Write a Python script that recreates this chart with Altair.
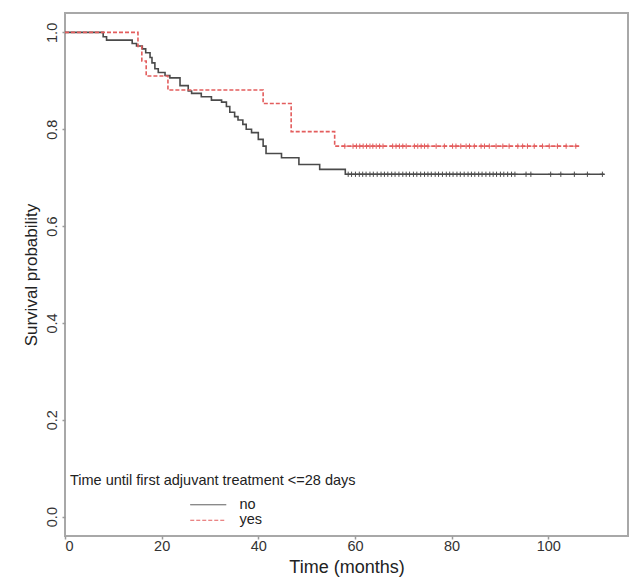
import altair as alt
import pandas as pd
import numpy as np

# ---- data ----
groups = ["no", "yes"]

no_time = [0, 7.9, 8.6, 13.9, 14.8, 16.0, 16.7, 17.6, 18.0, 18.6, 19.3, 20.7, 21.7,
           23.8, 25.5, 26.2, 28.2, 30.3, 32.4, 33.4, 34.1, 35.1, 35.8, 36.8, 37.5,
           38.6, 40.0, 41.0, 41.6, 44.8, 48.4, 52.7, 58.0, 111.6]
no_surv = [1.0, 0.991, 0.984, 0.977, 0.972, 0.966, 0.958, 0.948, 0.937, 0.925, 0.917,
           0.911, 0.906, 0.890, 0.879, 0.874, 0.867, 0.860, 0.856, 0.847, 0.835, 0.826,
           0.819, 0.810, 0.800, 0.793, 0.779, 0.765, 0.750, 0.741, 0.727, 0.717, 0.707,
           0.707]

yes_time = [0, 15.1, 15.9, 16.8, 21.3, 41.0, 46.8, 55.8, 106.8]
yes_surv = [1.0, 0.971, 0.941, 0.910, 0.881, 0.853, 0.795, 0.765, 0.765]

no_censored = [58.6, 59.3, 60.1, 60.9, 61.6, 62.3, 63.1, 63.8, 64.6, 65.4, 66.1, 66.8,
               67.6, 68.3, 69.1, 69.9, 70.6, 71.3, 72.1, 72.8, 73.6, 74.4, 75.1, 75.8,
               76.6, 77.3, 78.1, 78.9, 79.6, 80.3, 81.1, 81.8, 82.6, 83.4, 84.1, 84.8,
               85.6, 86.3, 87.1, 87.9, 88.6, 89.3, 90.1, 90.8, 91.6, 92.4, 93.1, 95.4,
               96.4, 100.5, 102.6, 105.4, 108.1, 111.2]
yes_censored = [57.9, 59.6, 60.3, 61.0, 61.7, 62.4, 63.1, 63.7, 64.4, 65.1, 65.8, 67.8,
                68.5, 69.2, 69.9, 70.6, 72.3, 73.0, 73.7, 74.4, 75.1, 76.8, 78.5, 80.2,
                80.9, 81.9, 83.0, 83.7, 84.7, 86.1, 86.8, 87.8, 89.2, 90.6, 91.9, 93.7,
                94.7, 95.7, 97.1, 98.8, 100.2, 101.9, 103.7, 105.7]

x_ticks = [0, 20, 40, 60, 80, 100]
y_ticks = [0.0, 0.2, 0.4, 0.6, 0.8, 1.0]

legend_title = "Time until first adjuvant treatment <=28 days"

# ---- tables ----
curves = pd.DataFrame({
    "time": no_time + yes_time,
    "surv": no_surv + yes_surv,
    "group": ["no"] * len(no_time) + ["yes"] * len(yes_time),
})


def surv_at(times, survs, t):
    idx = np.searchsorted(np.array(times), t, side="right") - 1
    return survs[idx]


cens_no = pd.DataFrame({"time": no_censored,
                        "surv": [surv_at(no_time, no_surv, t) for t in no_censored]})
cens_yes = pd.DataFrame({"time": yes_censored,
                         "surv": [surv_at(yes_time, yes_surv, t) for t in yes_censored]})

COL_NO = "#4a4a4a"
COL_YES = "#e35d5d"
FONT = "Liberation Sans"

x_scale = alt.Scale(domain=[0, 116.5], nice=False, zero=False)
y_scale = alt.Scale(domain=[-0.04, 1.04], nice=False, zero=False)

x_axis = alt.Axis(values=x_ticks, format="d", title="Time (months)", grid=False,
                  domain=False, tickSize=3, tickColor="#9a9a9a", tickWidth=1.5,
                  labelFontSize=14.5, labelColor="#333333", labelPadding=0,
                  titleFontSize=18, titleFontWeight="normal", titleColor="#222222",
                  titlePadding=6)
y_axis = alt.Axis(values=y_ticks, format=".1f", title="Survival probability", grid=False,
                  domain=False, tickSize=3, tickColor="#9a9a9a", tickWidth=1.5,
                  labelFontSize=14.5, labelColor="#333333", labelAngle=270,
                  labelAlign="center", labelBaseline="bottom", labelPadding=3,
                  titleFontSize=17, titleFontWeight="normal", titleColor="#222222",
                  titlePadding=4)

lines = alt.Chart(curves).mark_line(interpolate="step-after", strokeWidth=1.6).encode(
    x=alt.X("time:Q", scale=x_scale, axis=x_axis),
    y=alt.Y("surv:Q", scale=y_scale, axis=y_axis),
    color=alt.Color("group:N",
                    scale=alt.Scale(domain=groups, range=[COL_NO, COL_YES]),
                    legend=alt.Legend(orient="none", legendX=5, legendY=461,
                                      title=legend_title, titleFontSize=14.5,
                                      titleFontWeight="normal", titleColor="#222222",
                                      titleLimit=500, titlePadding=9,
                                      labelFontSize=14.5, labelColor="#222222",
                                      symbolType="M-3,0H3", symbolSize=144,
                                      symbolStrokeWidth=1, symbolOffset=131,
                                      labelOffset=24, rowPadding=0.5)),
    strokeDash=alt.StrokeDash("group:N",
                              scale=alt.Scale(domain=groups, range=[[1, 0], [4, 2]]),
                              legend=None),
)

plus = "M0,-1V1M-1,0H1"
pts_no = alt.Chart(cens_no).mark_point(shape=plus, size=28, strokeWidth=1,
                                       color=COL_NO, opacity=1).encode(
    x="time:Q", y="surv:Q")
pts_yes = alt.Chart(cens_yes).mark_point(shape=plus, size=28, strokeWidth=1,
                                         color=COL_YES, opacity=1).encode(
    x="time:Q", y="surv:Q")

chart = alt.layer(lines, pts_no, pts_yes).properties(
    width=563, height=523,
    autosize=alt.AutoSizeParams(type="none"),
    padding={"left": 57, "top": 5, "right": 6, "bottom": 45},
).configure(font=FONT, background="white").configure_view(
    stroke="#a8a8a8", strokeWidth=2
)

chart.save("out.html", embed_options={"renderer": "svg", "actions": False})
